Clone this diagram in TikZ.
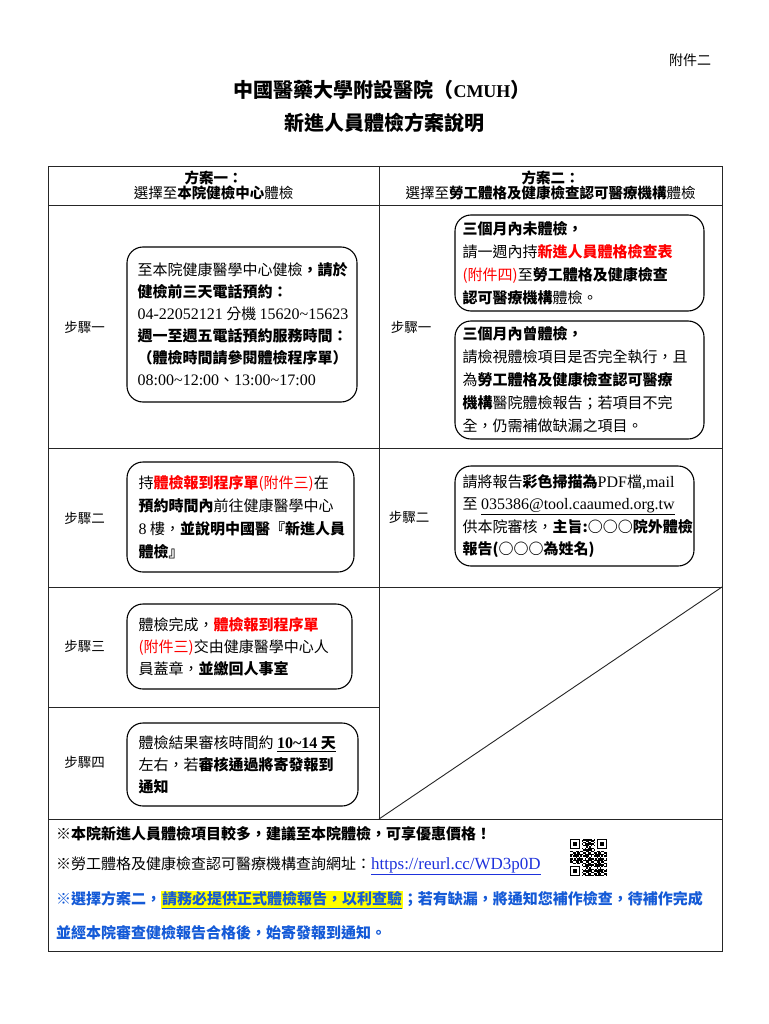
\documentclass[tikz,border=0pt]{standalone}
\usepackage{fontspec}
\setmainfont{Noto Sans CJK TC}
\newfontfamily\lat{Liberation Serif}
\usepackage{xcolor}
\definecolor{myred}{RGB}{255,0,0}
\definecolor{myblue}{RGB}{20,90,215}
\definecolor{linkblue}{RGB}{30,50,220}
\definecolor{hilite}{RGB}{255,255,0}
\newcommand{\rd}[1]{\textcolor{myred}{#1}}
\newcommand{\la}[1]{{\lat\fontsize{16}{16}\selectfont #1}}
\setlength{\fboxsep}{0.8pt}
\begin{document}
\begin{tikzpicture}[x=1pt,y=-1pt,
  tline/.style={draw=black!85,line width=0.9pt},
  rbox/.style={draw=black,line width=1.1pt,rounded corners=16pt,inner sep=0pt,anchor=center},
  boxtext/.style={anchor=west,align=left,inner sep=0pt,font=\fontsize{15}{23}\selectfont},
  steplbl/.style={font=\fontsize{13.5}{14}\selectfont},
  foot/.style={anchor=west,inner sep=0pt,font=\fontsize{15}{16}\selectfont}]
\fill[white] (0,0) rectangle (768,1024);
\useasboundingbox (0,0) rectangle (768,1024);

% titles
\node[font=\fontsize{14}{14}\selectfont] (annex) at (690,60) {附件二};
\node[font=\fontsize{20}{20}\selectfont\bfseries] (t1) at (382,90) {中國醫藥大學附設醫院（{\lat\fontsize{18}{18}\selectfont CMUH}）};
\node[font=\fontsize{20}{20}\selectfont\bfseries] (t2) at (384,123) {新進人員體檢方案說明};

% table frame
\coordinate (TL) at (48,166); \coordinate (TR) at (722,166);
\coordinate (BL) at (48,951); \coordinate (BR) at (722,951);
\coordinate (H1L) at (48,205); \coordinate (H1R) at (722,205);
\coordinate (R2L) at (48,448); \coordinate (R2R) at (722,448);
\coordinate (R3L) at (48,587); \coordinate (R3R) at (722,587);
\coordinate (R4L) at (48,707); \coordinate (R4M) at (379,707);
\coordinate (R5L) at (48,819); \coordinate (R5R) at (722,819);
\coordinate (VT) at (379,166); \coordinate (VB) at (379,819);
\draw[tline] (TL) rectangle (BR);
\draw[tline] (H1L) -- (H1R);
\draw[tline] (R2L) -- (R2R);
\draw[tline] (R3L) -- (R3R);
\draw[tline] (R4L) -- (R4M);
\draw[tline] (R5L) -- (R5R);
\draw[tline] (VT) -- (VB);
\draw[tline] (VB) -- (R3R);

% header
\node[font=\fontsize{14.5}{15.5}\selectfont,align=center] (h1) at (213.5,185.5) {\textbf{方案一：}\\選擇至\textbf{本院健檢中心}體檢};
\node[font=\fontsize{14.5}{15.5}\selectfont,align=center] (h2) at (550.5,185.5) {\textbf{方案二：}\\選擇至\textbf{勞工體格及健康檢查認可醫療機構}體檢};

% step labels
\node[steplbl] (s1l) at (84.5,327) {步驟一};
\node[steplbl] (s2l) at (84.5,518) {步驟二};
\node[steplbl] (s3l) at (84.5,646) {步驟三};
\node[steplbl] (s4l) at (84.5,762) {步驟四};
\node[steplbl] (s1r) at (411,327) {步驟一};
\node[steplbl] (s2r) at (409,517) {步驟二};

% boxes
\node[rbox,minimum width=230,minimum height=155] (b1) at (242,324.5) {};
\node[boxtext,font=\fontsize{15}{22}\selectfont] (b1t) at ([xshift=11]b1.west)
 {至本院健康醫學中心健檢\textbf{，請於}\\
  \textbf{健檢前三天電話預約：}\\
  \la{04-22052121} 分機 \la{15620\textasciitilde15623}\\
  \textbf{週一至週五電話預約服務時間：}\\
  \textbf{（體檢時間請參閱體檢程序單）}\\
  \la{08:00\textasciitilde12:00}、\la{13:00\textasciitilde17:00}};

\node[rbox,minimum width=249,minimum height=96] (r1a) at (579.5,263) {};
\node[boxtext] (r1at) at ([xshift=8]r1a.west)
 {\textbf{三個月內未體檢，}\\
  請一週內持\rd{\textbf{新進人員體格檢查表}}\\
  \rd{(附件四)}至\textbf{勞工體格及健康檢查}\\
  \textbf{認可醫療機構}體檢。};

\node[rbox,minimum width=249,minimum height=118] (r1b) at (579.5,380) {};
\node[boxtext] (r1bt) at ([xshift=8]r1b.west)
 {\textbf{三個月內曾體檢，}\\
  請檢視體檢項目是否完全執行，且\\
  為\textbf{勞工體格及健康檢查認可醫療}\\
  \textbf{機構}醫院體檢報告；若項目不完\\
  全，仍需補做缺漏之項目。};

\node[rbox,minimum width=227,minimum height=110] (b2) at (240.5,517) {};
\node[boxtext] (b2t) at ([xshift=12]b2.west)
 {持\rd{\textbf{體檢報到程序單}(附件三)}在\\
  \textbf{預約時間內}前往健康醫學中心\\
  \la{8} 樓，\textbf{並說明中國醫『新進人員}\\
  \textbf{體檢』}};

\node[rbox,minimum width=239,minimum height=100] (r2) at (574.5,516) {};
\node[boxtext,font=\fontsize{15}{22.5}\selectfont] (r2t) at ([xshift=8]r2.west)
 {請將報告\textbf{彩色掃描為}\la{PDF}檔\la{,mail}\\
  至 \underline{\la{035386@tool.caaumed.org.tw}}\\
  供本院審核，\textbf{主旨:○○○院外體檢}\\
  \textbf{報告(○○○為姓名)}};

\node[rbox,minimum width=225,minimum height=85] (b3) at (239.5,646.5) {};
\node[boxtext,font=\fontsize{15}{22}\selectfont] (b3t) at ([xshift=12]b3.west)
 {體檢完成，\rd{\textbf{體檢報到程序單}}\\
  \rd{(附件三)}交由健康醫學中心人\\
  員蓋章，\textbf{並繳回人事室}};

\node[rbox,minimum width=231,minimum height=83] (b4) at (242.5,764.5) {};
\node[boxtext,font=\fontsize{15}{22}\selectfont] (b4t) at ([xshift=12]b4.west)
 {體檢結果審核時間約 \underline{\textbf{\la{\bfseries 10\textasciitilde14} 天}}\\
  左右，若\textbf{審核通過將寄發報到}\\
  \textbf{通知}};

% footer
\node[foot] (f1) at (56,834) {\textbf{※本院新進人員體檢項目較多，建議至本院體檢，可享優惠價格！}};
\node[foot] (f2) at (56,866) {※勞工體格及健康檢查認可醫療機構查詢網址：\textcolor{linkblue}{\underline{\lat\fontsize{17}{17}\selectfont https://reurl.cc/WD3p0D}}};
\node[foot,text=myblue] (f3) at (56,900) {\textbf{※選擇方案二，}\colorbox{hilite}{\underline{\textbf{請務必提供正式體檢報告，以利查驗}}}\textbf{；若有缺漏，將通知您補作檢查，待補作完成}};
\node[foot,text=myblue] (f4) at (56,933) {\textbf{並經本院審查健檢報告合格後，始寄發報到通知。}};

% QR code
\begin{scope}[shift={(570,839)}]
\foreach \i in {0,...,24}{
  \foreach \j in {0,...,24}{
    \pgfmathtruncatemacro\v{mod(\i*\i*3+\j*7+\i*\j*5+\j*\j+\i,7)}
    \ifnum\v<4 \fill ({\i*1.48},{\j*1.48}) rectangle ++(1.5,1.5); \fi
  }}
\foreach \a/\b in {0/0,17/0,0/17}{
  \fill[white] ({\a*1.48},{\b*1.48}) rectangle ++({8*1.48},{8*1.48});
  \fill ({(\a+(\a>0?1:0))*1.48},{(\b+(\b>0?1:0))*1.48}) rectangle ++({7*1.48},{7*1.48});
  \fill[white] ({(\a+(\a>0?1:0)+1)*1.48},{(\b+(\b>0?1:0)+1)*1.48}) rectangle ++({5*1.48},{5*1.48});
  \fill ({(\a+(\a>0?1:0)+2)*1.48},{(\b+(\b>0?1:0)+2)*1.48}) rectangle ++({3*1.48},{3*1.48});
}
\end{scope}
\end{tikzpicture}
\end{document}
